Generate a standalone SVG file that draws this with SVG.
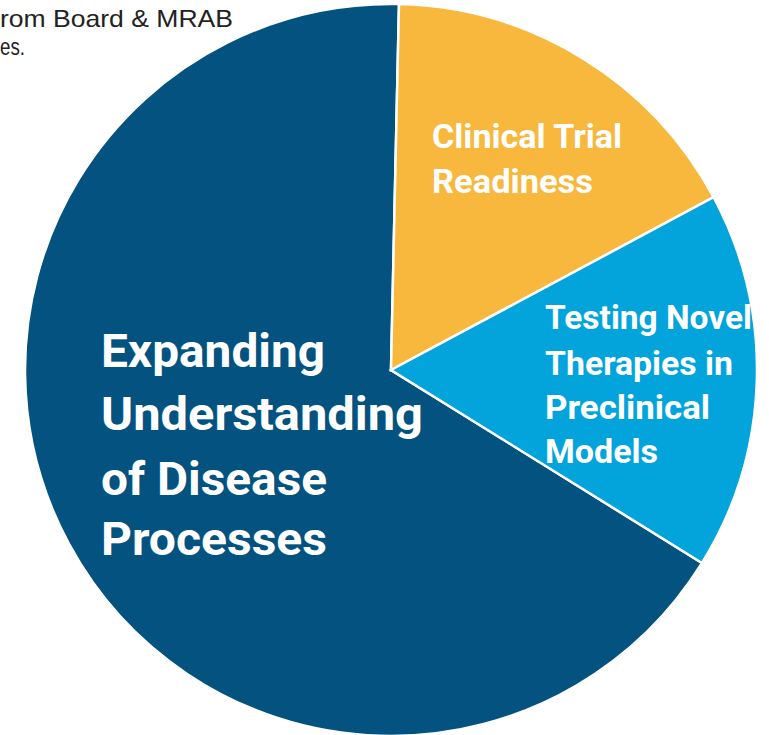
<svg xmlns="http://www.w3.org/2000/svg" width="769" height="735" viewBox="0 0 769 735">
<style>
.slice{stroke:#ffffff;stroke-width:2.5;stroke-linejoin:miter}
.lbl{fill:#ffffff;font-family:Roboto,"Noto Sans","Liberation Sans",sans-serif;font-weight:bold}
.big{font-size:47px}
.small{font-size:33px}
.note{fill:#222222;font-family:"Liberation Sans",Arial,sans-serif;font-size:24px}
</style>
<rect width="769" height="735" fill="#ffffff"/>
<g id="note">
<text class="note" x="0" y="27" textLength="233" lengthAdjust="spacingAndGlyphs">rom Board &amp; MRAB</text>
<text class="note" x="0" y="55" textLength="25" lengthAdjust="spacingAndGlyphs">es.</text>
</g>
<g id="slices">
<g id="slice-expanding">
<path class="slice" fill="#03527F" d="M391,370 L399,4.1 A366,366 0 1 0 702,563 Z"/>
</g>
<g id="slice-clinical">
<path class="slice" fill="#F7B83D" d="M391,370 L399,4.1 A366,366 0 0 1 713.6,197.2 Z"/>
</g>
<g id="slice-testing">
<path class="slice" fill="#03A4DC" d="M391,370 L713.6,197.2 A366,366 0 0 1 702,563 Z"/>
</g>
</g>
<g id="label-expanding">
<text class="lbl big" x="101" y="367" textLength="224" lengthAdjust="spacingAndGlyphs">Expanding</text>
<text class="lbl big" x="101" y="430" textLength="322" lengthAdjust="spacingAndGlyphs">Understanding</text>
<text class="lbl big" x="101" y="495" textLength="226" lengthAdjust="spacingAndGlyphs">of Disease</text>
<text class="lbl big" x="101" y="555" textLength="226" lengthAdjust="spacingAndGlyphs">Processes</text>
</g>
<g id="label-clinical">
<text class="lbl small" x="432" y="148" textLength="190" lengthAdjust="spacingAndGlyphs">Clinical Trial</text>
<text class="lbl small" x="432" y="193" textLength="161" lengthAdjust="spacingAndGlyphs">Readiness</text>
</g>
<g id="label-testing">
<text class="lbl small" x="545" y="329" textLength="207" lengthAdjust="spacingAndGlyphs">Testing Novel</text>
<text class="lbl small" x="545" y="375" textLength="188" lengthAdjust="spacingAndGlyphs">Therapies in</text>
<text class="lbl small" x="545" y="419" textLength="165" lengthAdjust="spacingAndGlyphs">Preclinical</text>
<text class="lbl small" x="545" y="463" textLength="113" lengthAdjust="spacingAndGlyphs">Models</text>
</g>
</svg>
